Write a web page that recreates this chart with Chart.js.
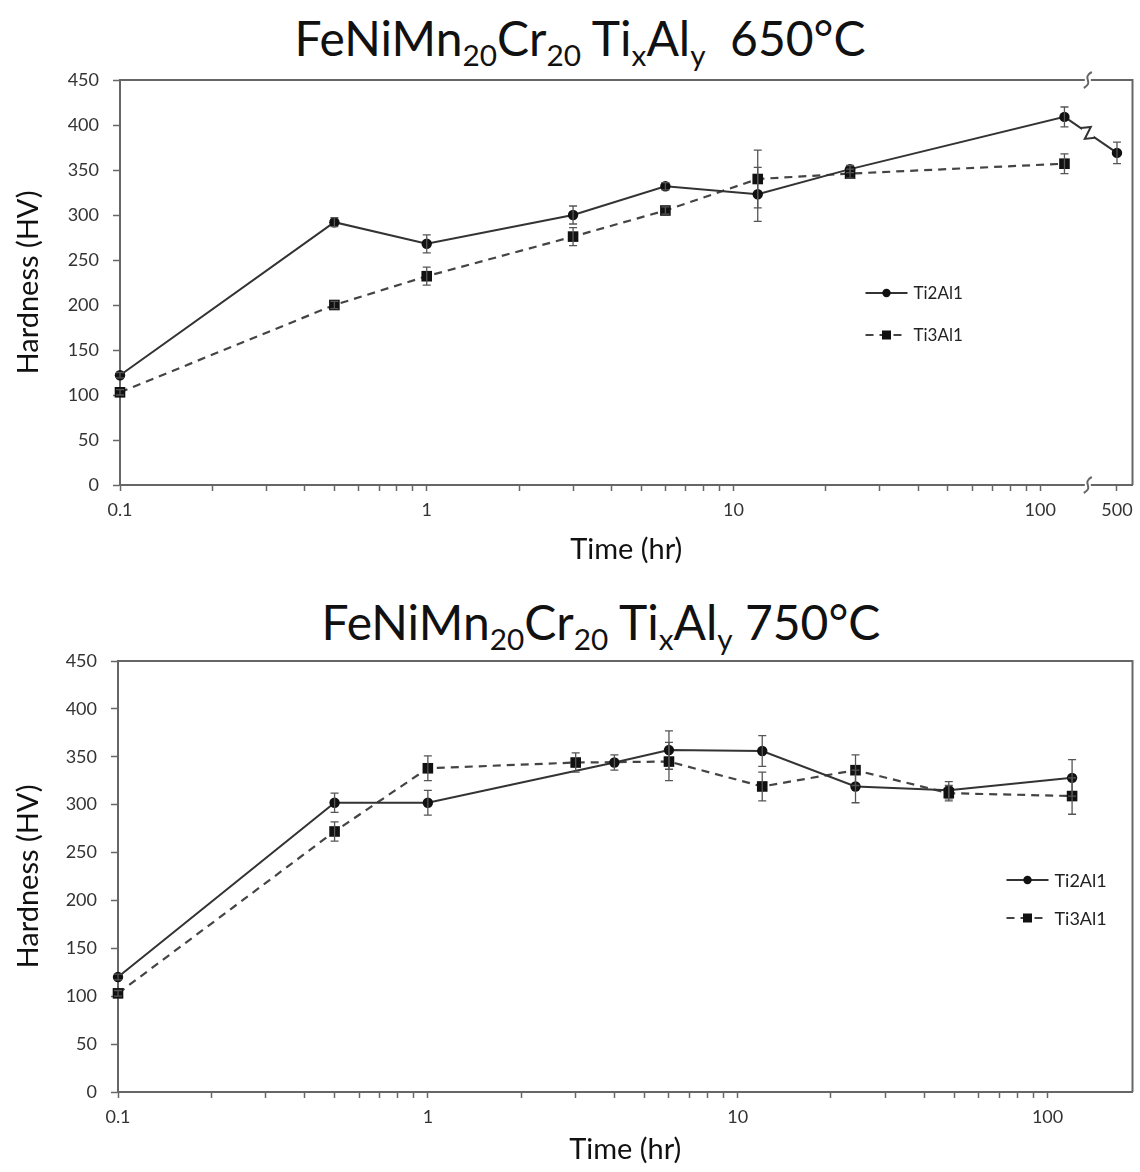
<!DOCTYPE html>
<html>
<head>
<meta charset="utf-8">
<script src="https://cdn.jsdelivr.net/npm/chart.js@4.4.1/dist/chart.umd.min.js"></script>
<style>
  body { margin: 0; background: #fff; }
  #pagina { position: relative; width: 1140px; height: 1172px; font-family: Lato, "Open Sans", sans-serif; }
  .titulo { position: absolute; transform: translateX(-50%); white-space: nowrap; font-size: 48px; color: #111; line-height: 1; }
  .titulo sub { font-size: 0.62em; vertical-align: -0.32em; line-height: 0; }
  canvas { position: absolute; left: 0; }
</style>
</head>
<body>
<div id="pagina">
  <div class="titulo" style="left:580px; top:14px">FeNiMn<sub>20</sub>Cr<sub>20</sub> Ti<sub>x</sub>Al<sub>y</sub>&nbsp; 650°C</div>
  <canvas id="dureza650" width="1140" height="580" style="top:0"></canvas>
  <div class="titulo" style="left:601px; top:598px">FeNiMn<sub>20</sub>Cr<sub>20</sub> Ti<sub>x</sub>Al<sub>y</sub> 750°C</div>
  <canvas id="dureza750" width="1140" height="592" style="top:580px"></canvas>
</div>
<script>
// Dureza (HV) x tempo de envelhecimento, com desvio de cada medida
const horasTi2Al1_650 = [0.1, 0.5, 1, 3, 6, 12, 24, 120, 500];
const durezaTi2Al1_650 = [122, 292, 268, 300, 332, 323, 351, 409, 369];
const erroTi2Al1_650 = [3, 5, 10, 10, 4, 30, 4, 11, 12];

const horasTi3Al1_650 = [0.1, 0.5, 1, 3, 6, 12, 24, 120];
const durezaTi3Al1_650 = [103, 200, 232, 276, 305, 340, 346, 357];
const erroTi3Al1_650 = [3, 4, 10, 10, 4, 32, 5, 11];

const horasTi2Al1_750 = [0.1, 0.5, 1, 4, 6, 12, 24, 48, 120];
const durezaTi2Al1_750 = [120, 302, 302, 344, 357, 356, 319, 315, 328];
const erroTi2Al1_750 = [3, 10, 13, 8, 20, 16, 17, 9, 19];

const horasTi3Al1_750 = [0.1, 0.5, 1, 3, 6, 12, 24, 48, 120];
const durezaTi3Al1_750 = [103, 272, 338, 344, 345, 319, 336, 312, 309];
const erroTi3Al1_750 = [3, 10, 13, 10, 20, 15, 16, 8, 19];

const rotulosTempo650 = [0.1, 1, 10, 100, 500];
const rotulosTempo750 = [0.1, 1, 10, 100];

// eixo quebrado a 650°C: 500 h fica logo depois da quebra
const HORA_LONGA = 500;
const POSICAO_HORA_LONGA = 178;
const QUEBRA_EM = 143;

function posicaoEixo(h) {
    return h === HORA_LONGA ? POSICAO_HORA_LONGA : h;
}

function pontos(horas, dureza) {
    return horas.map((h, i) => ({ x: posicaoEixo(h), y: dureza[i] }));
}

// marcas menores do eixo log: 0.1..0.9, 1..9, 10..90, 100
function ticksLog() {
    const t = [];
    [0.1, 1, 10].forEach(d => {
        for (let m = 1; m <= 9; m++) t.push(+(d * m).toPrecision(2));
    });
    t.push(100);
    return t;
}

const barrasErro = {
    id: 'barrasErro',
    afterDatasetsDraw(chart) {
        const ctx = chart.ctx;
        const escalaY = chart.scales.y;
        chart.data.datasets.forEach((ds, i) => {
            const meta = chart.getDatasetMeta(i);
            ctx.save();
            ctx.strokeStyle = '#555';
            ctx.lineWidth = 1.3;
            meta.data.forEach((pt, j) => {
                const v = ds.data[j].y;
                const e = ds.erros[j];
                const yTopo = escalaY.getPixelForValue(v + e);
                const yBase = escalaY.getPixelForValue(v - e);
                ctx.beginPath();
                ctx.moveTo(pt.x, yTopo); ctx.lineTo(pt.x, yBase);
                ctx.moveTo(pt.x - 4, yTopo); ctx.lineTo(pt.x + 4, yTopo);
                ctx.moveTo(pt.x - 4, yBase); ctx.lineTo(pt.x + 4, yBase);
                ctx.stroke();
            });
            ctx.restore();
        });
    }
};

function zigueEixo(ctx, x, y) {
    ctx.fillStyle = '#fff';
    ctx.fillRect(x - 3, y - 3, 6, 6);
    ctx.beginPath();
    ctx.moveTo(x - 4, y + 8);
    ctx.bezierCurveTo(x + 7, y + 2, x - 7, y - 2, x + 4, y - 8);
    ctx.stroke();
}

const moldura = {
    id: 'moldura',
    afterDraw(chart, args, opts) {
        const { ctx, chartArea: a } = chart;
        ctx.save();
        ctx.strokeStyle = '#666';
        ctx.lineWidth = 2;
        ctx.beginPath();
        ctx.moveTo(a.left, a.top); ctx.lineTo(a.right, a.top); ctx.lineTo(a.right, a.bottom);
        ctx.stroke();

        if (opts.quebra) {
            const bx = chart.scales.x.getPixelForValue(opts.quebra);
            zigueEixo(ctx, bx, a.top);
            zigueEixo(ctx, bx, a.bottom);

            // Z na linha que atravessa a quebra
            const meta = chart.getDatasetMeta(0);
            const p0 = meta.data[meta.data.length - 2];
            const p1 = meta.data[meta.data.length - 1];
            const yEm = x => p0.y + (x - p0.x) / (p1.x - p0.x) * (p1.y - p0.y);
            const ym = yEm(bx);
            ctx.fillStyle = '#fff';
            ctx.fillRect(bx - 6, ym - 9, 12, 18);
            ctx.strokeStyle = '#333';
            ctx.beginPath();
            ctx.moveTo(bx - 7, yEm(bx - 7));
            ctx.lineTo(bx + 3, ym - 6);
            ctx.lineTo(bx - 3, ym + 6);
            ctx.lineTo(bx + 7, yEm(bx + 7));
            ctx.stroke();
        }
        ctx.restore();
    }
};

const legendaLinha = {
    id: 'legendaLinha',
    afterDraw(chart, args, opts) {
        const { ctx, chartArea: a } = chart;
        const x = a.right + opts.dx;
        let y = a.top + opts.dy;
        chart.data.datasets.forEach(ds => {
            ctx.save();
            ctx.strokeStyle = ds.borderColor;
            ctx.lineWidth = ds.borderWidth;
            ctx.setLineDash(ds.borderDash || []);
            ctx.beginPath();
            ctx.moveTo(x, y); ctx.lineTo(x + opts.comprimento, y);
            ctx.stroke();
            ctx.setLineDash([]);
            ctx.fillStyle = ds.pointBackgroundColor;
            const cx = x + opts.comprimento / 2;
            if (ds.pointStyle === 'rect') {
                ctx.fillRect(cx - 4.5, y - 4.5, 9, 9);
            } else {
                ctx.beginPath();
                ctx.arc(cx, y, 4.2, 0, Math.PI * 2);
                ctx.fill();
            }
            ctx.fillStyle = '#222';
            ctx.font = opts.fonte + 'px Lato, "Open Sans", sans-serif';
            ctx.textBaseline = 'middle';
            ctx.fillText(ds.label, x + opts.comprimento + 6, y + 1);
            ctx.restore();
            y += opts.espaco;
        });
    }
};

function criarGraficoDureza(idCanvas, series, config) {
    const rotulos = config.rotulos;
    const marcas = ticksLog();
    if (rotulos.includes(HORA_LONGA)) marcas.push(POSICAO_HORA_LONGA);

    const ctx = document.getElementById(idCanvas).getContext('2d');
    return new Chart(ctx, {
        type: 'scatter',
        data: {
            datasets: [{
                label: 'Ti2Al1',
                data: pontos(series.horas2, series.dureza2),
                erros: series.erro2,
                showLine: true,
                borderColor: '#333',
                borderWidth: 2,
                pointStyle: 'circle',
                pointRadius: 5.2,
                pointBackgroundColor: '#111',
                pointBorderWidth: 0,
                clip: false
            }, {
                label: 'Ti3Al1',
                data: pontos(series.horas3, series.dureza3),
                erros: series.erro3,
                showLine: true,
                borderColor: '#444',
                borderWidth: 2.2,
                borderDash: [8, 6],
                pointStyle: 'rect',
                pointRadius: 7.5,
                pointBackgroundColor: '#111',
                pointBorderWidth: 0,
                clip: false
            }]
        },
        options: {
            responsive: false,
            animation: false,
            events: [],
            layout: { padding: config.padding },
            plugins: {
                legend: { display: false },
                tooltip: { enabled: false },
                moldura: { quebra: config.quebra },
                legendaLinha: config.legenda
            },
            scales: {
                x: {
                    type: 'logarithmic',
                    min: 0.1,
                    max: config.maxHoras,
                    afterBuildTicks: s => { s.ticks = marcas.map(v => ({ value: v })); },
                    afterFit: s => {
                        s.height = config.alturaX;
                        s.paddingLeft = 0;
                        s.paddingRight = 0;
                    },
                    ticks: {
                        autoSkip: false,
                        maxRotation: 0,
                        padding: 8,
                        color: '#333',
                        font: { family: 'Lato', size: 18 },
                        callback: v => {
                            if (v === POSICAO_HORA_LONGA) return String(HORA_LONGA);
                            return rotulos.includes(v) ? String(v) : '';
                        }
                    },
                    grid: { drawOnChartArea: false, tickLength: 6, tickColor: '#666', tickWidth: 1.5 },
                    border: { color: '#666', width: 2 },
                    title: {
                        display: true,
                        text: 'Time (hr)',
                        color: '#111',
                        font: { family: 'Lato', size: 29 },
                        padding: { bottom: config.tituloX }
                    }
                },
                y: {
                    min: 0,
                    max: 450,
                    afterFit: s => { s.width = config.larguraY; },
                    ticks: {
                        stepSize: 50,
                        padding: 14,
                        color: '#333',
                        font: { family: 'Lato', size: 18 }
                    },
                    grid: { drawOnChartArea: false, tickLength: 7, tickColor: '#666', tickWidth: 1.5 },
                    border: { color: '#666', width: 2 },
                    title: {
                        display: true,
                        text: 'Hardness (HV)',
                        color: '#111',
                        font: { family: 'Lato', size: 29 },
                        padding: { top: 11 }
                    }
                }
            }
        },
        plugins: [barrasErro, moldura, legendaLinha]
    });
}

criarGraficoDureza('dureza650', {
    horas2: horasTi2Al1_650, dureza2: durezaTi2Al1_650, erro2: erroTi2Al1_650,
    horas3: horasTi3Al1_650, dureza3: durezaTi3Al1_650, erro3: erroTi3Al1_650
}, {
    rotulos: rotulosTempo650,
    maxHoras: 200,
    quebra: QUEBRA_EM,
    padding: { top: 80, right: 3, left: 0, bottom: 0 },
    larguraY: 120,
    alturaX: 95,
    tituloX: 13,
    legenda: { dx: -267, dy: 213, comprimento: 42, espaco: 42, fonte: 17 }
});

criarGraficoDureza('dureza750', {
    horas2: horasTi2Al1_750, dureza2: durezaTi2Al1_750, erro2: erroTi2Al1_750,
    horas3: horasTi3Al1_750, dureza3: durezaTi3Al1_750, erro3: erroTi3Al1_750
}, {
    rotulos: rotulosTempo750,
    maxHoras: 188,
    quebra: null,
    padding: { top: 81, right: 7, left: 0, bottom: 0 },
    larguraY: 118,
    alturaX: 80,
    tituloX: 5,
    legenda: { dx: -126, dy: 219, comprimento: 42, espaco: 38, fonte: 18 }
});
</script>
</body>
</html>
